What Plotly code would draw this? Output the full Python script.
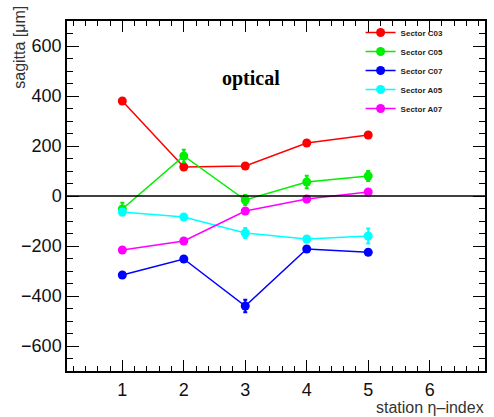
import plotly.graph_objects as go

stations = [1, 2, 3, 4, 5]
series_names = ["Sector C03", "Sector C05", "Sector C07", "Sector A05", "Sector A07"]
c03 = [380, 116, 120, 212, 244]
c05 = [-52, 160, -16, 56, 80]
c07 = [-316, -252, -440, -212, -225]
a05 = [-64, -84, -148, -172, -160]
a07 = [-216, -180, -60, -12, 16]
c03_err = [10, 10, 10, 12, 12]
c05_err = [25, 25, 20, 25, 20]
c07_err = [10, 10, 25, 10, 10]
a05_err = [10, 10, 20, 10, 30]
a07_err = [10, 10, 10, 10, 10]
colors = ["#ff0000", "#00ee00", "#0000ff", "#00ffff", "#ff00ff"]

values = [c03, c05, c07, a05, a07]
errors = [c03_err, c05_err, c07_err, a05_err, a07_err]

fig = go.Figure()
for name, v, e, c in zip(series_names, values, errors, colors):
    fig.add_trace(go.Scatter(
        x=stations, y=v, name=name, mode="lines+markers",
        line=dict(color=c, width=1.5),
        marker=dict(color=c, size=9),
        error_y=dict(type="data", array=e, color=c, thickness=2, width=2),
    ))

fig.add_shape(type="line", xref="paper", yref="y", x0=0, x1=1, y0=0, y1=0,
              line=dict(color="black", width=1.5))

axis_common = dict(
    showline=True, linecolor="black", linewidth=1.5, mirror="ticks",
    ticks="inside", tickcolor="black", showgrid=False, zeroline=False,
    tickfont=dict(family="Liberation Sans, Arial, sans-serif", size=18, color="#111"),
)

fig.update_xaxes(range=[0.1, 6.9], dtick=1, tick0=0, ticklen=11, tickwidth=1.2,
                 ticklabelstandoff=2,
                 minor=dict(ticks="inside", ticklen=5, dtick=0.2, tickcolor="black", tickwidth=1),
                 **axis_common)
fig.update_yaxes(range=[-700, 700], dtick=200, tick0=0, ticklen=12, tickwidth=1.2,
                 minor=dict(ticks="inside", ticklen=6, dtick=50, tickcolor="black", tickwidth=1),
                 **axis_common)

fig.add_annotation(text="optical", xref="paper", yref="paper",
                   x=(252 - 67) / 420, y=(371 - 65) / 350, showarrow=False,
                   font=dict(family="Liberation Serif, Times New Roman, serif", size=20,
                             color="black", weight="bold"))
fig.add_annotation(text="sagitta [μm]", xref="paper", yref="paper", textangle=-90,
                   x=(19 - 67) / 420, y=(371 - 4) / 350, xanchor="center", yanchor="top",
                   showarrow=False,
                   font=dict(family="Liberation Sans, Arial, sans-serif", size=16, color="#333"))
fig.add_annotation(text="station η–index", xref="paper", yref="paper",
                   x=1, y=(371 - 417) / 350, xanchor="right", yanchor="bottom",
                   showarrow=False, borderpad=0,
                   font=dict(family="Liberation Sans, Arial, sans-serif", size=16, color="#333"))

fig.update_layout(
    width=494, height=417,
    margin=dict(l=67, r=7, t=21, b=46),
    paper_bgcolor="white", plot_bgcolor="white",
    showlegend=True,
    legend=dict(x=(362 - 67) / 420, y=(371 - 18) / 350, xanchor="left", yanchor="top",
                bgcolor="rgba(0,0,0,0)",
                font=dict(family="Liberation Sans, Arial, sans-serif", size=8,
                          color="#222", weight="bold"),
                itemwidth=30, tracegroupgap=0),
)

fig.write_html("out.html")
